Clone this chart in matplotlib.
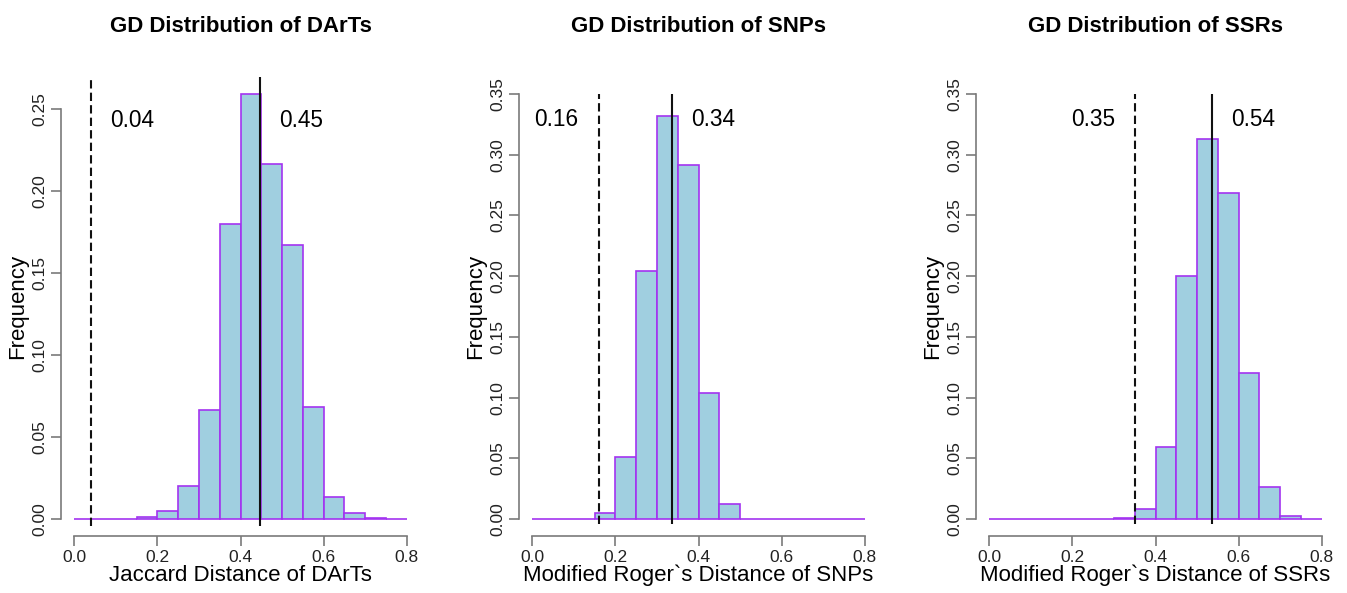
import numpy as np
import matplotlib
matplotlib.use("Agg")
import matplotlib.pyplot as plt

plt.rcParams['font.family'] = ['Liberation Sans', 'DejaVu Sans']

bin_edges = [round(0.05 * i, 2) for i in range(17)]

titles = ["GD Distribution of DArTs", "GD Distribution of SNPs", "GD Distribution of SSRs"]
xlabels = ["Jaccard Distance of DArTs", "Modified Roger`s Distance of SNPs",
           "Modified Roger`s Distance of SSRs"]

freq_darts = [0.0, 0.0, 0.0002, 0.0010, 0.0049, 0.0201, 0.0667, 0.1796,
              0.2591, 0.2165, 0.1673, 0.0683, 0.0134, 0.0039, 0.0008, 0.0]
freq_snps = [0.0, 0.0, 0.0, 0.0052, 0.0507, 0.2043, 0.3322, 0.2917,
             0.1041, 0.0126, 0.0002, 0.0, 0.0, 0.0, 0.0, 0.0]
freq_ssrs = [0.0, 0.0, 0.0, 0.0, 0.0, 0.0, 0.0008, 0.0085,
             0.0594, 0.1999, 0.3133, 0.2684, 0.1205, 0.0260, 0.0022, 0.0]

min_gd = [0.04, 0.16, 0.35]
mean_gd = [0.448, 0.337, 0.537]
min_labels = ["0.04", "0.16", "0.35"]
mean_labels = ["0.45", "0.34", "0.54"]

y_ticks = [[0.0, 0.05, 0.10, 0.15, 0.20, 0.25],
           [0.0, 0.05, 0.10, 0.15, 0.20, 0.25, 0.30, 0.35],
           [0.0, 0.05, 0.10, 0.15, 0.20, 0.25, 0.30, 0.35]]
x_ticks = [0.0, 0.2, 0.4, 0.6, 0.8]

freqs = [freq_darts, freq_snps, freq_ssrs]
ytops = [0.2695, 0.35, 0.35]
ylims = [(-0.0104, 0.2695), (-0.014, 0.364), (-0.014, 0.364)]
label_x_min = [0.139, 0.058, 0.25]
label_x_mean = [0.545, 0.436, 0.634]

W, H = 1347, 593
fig = plt.figure(figsize=(W / 100, H / 100), dpi=100)
lefts_px = [61, 519, 976]
axw_px = 359
bottom_px, top_px = 536, 77

fill_col = '#A0CFE0'
edge_col = '#A333F0'
axis_col = '#7a7a7a'

for i in range(3):
    ax = fig.add_axes([lefts_px[i] / W, (H - bottom_px) / H, axw_px / W, (bottom_px - top_px) / H])
    edges = np.array(bin_edges)
    ax.bar(edges[:-1], freqs[i], width=0.05, align='edge', color=fill_col,
           edgecolor=edge_col, linewidth=1.2, zorder=2)
    ax.set_xlim(-0.032, 0.832)
    ax.set_ylim(*ylims[i])
    ax.vlines(min_gd[i], -0.004, ytops[i], colors='#111111', linestyles=(0, (4, 2)),
              linewidth=1.5, zorder=3)
    ax.vlines(mean_gd[i], -0.004, ytops[i], colors='#111111', linewidth=1.5, zorder=3)
    ty = 0.329 if i > 0 else 0.243
    ax.text(label_x_min[i], ty, min_labels[i], ha='center', va='center', fontsize=16.3)
    ax.text(label_x_mean[i], ty, mean_labels[i], ha='center', va='center', fontsize=16.3)

    for s in ['top', 'right']:
        ax.spines[s].set_visible(False)
    ax.spines['left'].set_bounds(0, y_ticks[i][-1])
    ax.spines['bottom'].set_bounds(0, 0.8)
    for s in ['left', 'bottom']:
        ax.spines[s].set_color(axis_col)
        ax.spines[s].set_linewidth(1.2)
    ax.set_xticks(x_ticks)
    ax.set_xticklabels(["0.0", "0.2", "0.4", "0.6", "0.8"])
    ax.set_yticks(y_ticks[i])
    ax.set_yticklabels(["%.2f" % v for v in y_ticks[i]], rotation=90, va='center')
    ax.tick_params(axis='both', direction='out', length=7, width=1.2, color=axis_col,
                   labelsize=12.5, labelcolor='#222222', pad=3)
    ax.set_xlabel(xlabels[i], fontsize=16, labelpad=0)
    ax.set_ylabel("Frequency", fontsize=16, labelpad=3)
    fig.text((lefts_px[i] + axw_px / 2) / W, (H - 26) / H, titles[i], ha='center',
             va='center', fontsize=16, fontweight='bold')

fig.savefig("out.png", dpi=100)
